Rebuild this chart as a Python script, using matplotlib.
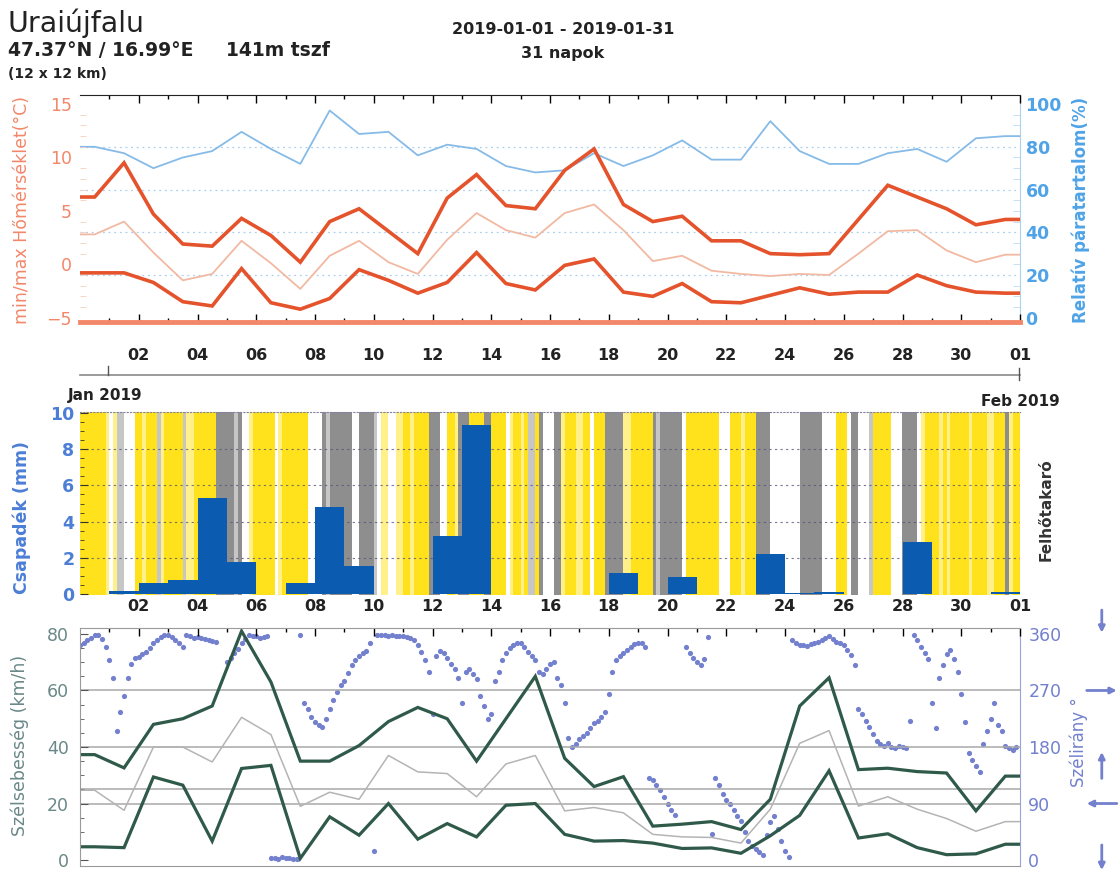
import numpy as np
import matplotlib
matplotlib.use("Agg")
import matplotlib.pyplot as plt
from matplotlib.colors import ListedColormap
from matplotlib.lines import Line2D

plt.rcParams['font.family'] = ['DejaVu Sans']

# daily values Dec 31 .. Jan 30, drawn at noon of each day
temp_max = [6.3, 9.5, 4.7, 1.9, 1.7, 4.3, 2.7, 0.2, 4.0, 5.2, 3.1, 1.0, 6.2, 8.4, 5.5, 5.2,
            8.8, 10.8, 5.6, 4.0, 4.5, 2.2, 2.2, 1.0, 0.9, 1.0, 4.2, 7.4, 6.3, 5.2, 3.7, 4.2]
temp_mean = [2.8, 4.0, 1.1, -1.5, -0.9, 2.2, 0.1, -2.3, 0.8, 2.2, 0.2, -0.9, 2.3, 4.8, 3.2, 2.5,
             4.8, 5.6, 3.2, 0.3, 0.8, -0.6, -0.9, -1.1, -0.9, -1.0, 1.0, 3.1, 3.2, 1.3, 0.2, 0.9]
temp_min = [-0.8, -0.8, -1.7, -3.5, -3.9, -0.4, -3.6, -4.2, -3.2, -0.5, -1.5, -2.7, -1.7, 1.1, -1.8, -2.4,
            -0.1, 0.5, -2.6, -3.0, -1.8, -3.5, -3.6, -2.9, -2.2, -2.8, -2.6, -2.6, -1.0, -2.0, -2.6, -2.7]
rel_hum = [80, 77, 70, 75, 78, 87, 79, 72, 97, 86, 87, 76, 81, 79, 71, 68,
           69, 77, 71, 76, 83, 74, 74, 92, 78, 72, 72, 77, 79, 73, 84, 85]
wind_max = [37.3, 32.6, 48, 50, 54.5, 81, 63, 35, 35, 40.5, 49, 54, 50, 35, 50, 65,
            36, 26, 29.5, 12, 12.7, 13.6, 10.8, 21.5, 54.5, 64.5, 32, 32.5, 31.3, 30.8, 17.4, 29.7]
wind_mean = [24.7, 17.6, 40, 40, 34.7, 50.5, 44.4, 19, 24, 21.5, 37, 31.2, 30.6, 22.4, 34, 37,
             17.4, 18.6, 16.7, 9.1, 8.2, 8, 6, 18, 41.3, 45.8, 19.1, 22.4, 18, 14.7, 10.2, 13.6]
wind_min = [4.7, 4.4, 29.4, 26.5, 6.7, 32.4, 33.5, 0.6, 15.3, 8.8, 20, 7.4, 12.9, 8.2, 19.4, 20,
            9.1, 6.7, 6.9, 6.0, 4.1, 4.3, 2.4, 8.6, 15.8, 31.6, 7.8, 9.3, 4.4, 1.9, 2.2, 5.6]

# daily precipitation Jan 1 .. Jan 31 (mm)
precip = [0.15, 0.6, 0.77, 5.3, 1.75, 0, 0.62, 4.8, 1.55, 0, 0, 3.2, 9.35, 0, 0, 0,
          0, 1.17, 0, 0.95, 0, 0, 2.2, 0.05, 0.12, 0, 0, 2.85, 0, 0, 0.1]

# cloud cover class every 3 h from Dec 31 00h: 0 clear .. 4 overcast
cloud = ("00000001" "21332220" "01000310" "00003110" "00000444" "44342210" "00000210" "00000022"
         "22434444" "44224444" "32112211" "00100004" "44220014" "44000044" "00002100" "10330422"
         "24410001" "10020004" "44441100" "00004344" "44442000" "00000022" "20001000" "44442222"
         "22224444" "44222200" "02442223" "00000222" "44442100" "00101000" "00100001" "10004100")

# wind direction every 3 h from Dec 31 00h (degrees)
nan = np.nan
wind_dir = [
    342, 346, 350, 354, 358, 359, 352, 340,
    318, 290, 205, 235, 262, 290, 312, 322,
    324, 328, 332, 338, 345, 350, 355, 358,
    358, 355, 350, 346, 340, 358, 356, 354,
    355, 353, 352, 350, 349, 347, nan, nan,
    315, 322, 330, 336, 345, 352, 358, 356,
    356, 354, 355, 357, 3, 4, 2, 5,
    4, 3, 2, 1, 358, 250, 240, 228,
    220, 215, 212, 225, 240, 255, 268, 278,
    285, 298, 310, 318, 325, 330, 333, 345,
    15, 358, 359, 358, 357, 358, 357, 356,
    356, 355, 354, 350, 343, 332, 318, 300,
    232, 325, 333, 330, 322, 312, 304, 290,
    250, 300, 304, 296, 288, 262, 245, 225,
    232, 285, 300, 318, 330, 338, 342, 345,
    345, 340, 332, 325, 318, 300, 296, 305,
    312, 316, 290, 278, 250, 195, 180, 185,
    192, 198, 203, 210, 218, 222, 228, 235,
    265, 300, 318, 325, 330, 335, 340, 344,
    346, 345, 340, 130, 128, 120, 112, 100,
    90, 80, 72, nan, nan, 340, 330, 322,
    315, 310, 320, 355, 42, 130, 120, 105,
    95, 90, 80, 70, 62, 45, 30, 22,
    18, 12, 8, 40, 60, 70, 50, 30,
    15, 5, 350, 345, 342, 343, 341, 344,
    345, 348, 350, 354, 356, 352, 348, 345,
    342, 335, 326, 310, 240, 232, 222, 212,
    200, 190, 185, 182, 186, 180, 178, 182,
    180, 178, 221, 358, 350, 340, 330, 320,
    250, 210, 290, 310, 328, 334, 320, 300,
    265, 220, 170, 160, 150, 140, 185, 205,
    225, 250, 215, 205, 182, 178, 176, 180,
]

date_labels = ["02", "04", "06", "08", "10", "12", "14", "16",
               "18", "20", "22", "24", "26", "28", "30", "01"]

XMIN, XMAX = -1, 31
W, H = 1120, 872

SALMON = "#F2876A"
TRED = "#E4532B"
TMEAN = "#F2B9A2"
RHBLUE = "#86BBE8"
RHTXT = "#4FA3E6"
PBLUE = "#4C7ED6"
BARBLUE = "#0B5CB0"
WGREEN = "#2F5A4A"
WTXT = "#6A8888"
DIRC = "#7280CE"
DARK = "#222222"

day_mid = np.arange(len(temp_max)) + XMIN + 0.5
xs = np.concatenate([[XMIN], day_mid, [XMAX]])


def padded(v):
    return np.concatenate([[v[0]], v, [v[-1]]])


def px_axes(left, top, right, bottom):
    return fig.add_axes([left / W, 1 - bottom / H, (right - left) / W, (bottom - top) / H])


def day_ticks(ax, labels=True, pad=4):
    ax.set_xlim(XMIN, XMAX)
    ax.set_xticks(np.arange(1, 32, 2))
    ax.set_xticks(np.arange(0, 31, 2), minor=True)
    if labels:
        ax.set_xticklabels(date_labels, fontsize=11.5, fontweight='bold', color=DARK)
    else:
        ax.set_xticklabels([])
    ax.tick_params(axis='x', which='major', direction='in', length=6, width=1, pad=pad,
                   top=True, bottom=True)
    ax.tick_params(axis='x', which='minor', direction='in', length=3, width=1,
                   top=True, bottom=True)


fig = plt.figure(figsize=(W / 100, H / 100), dpi=100)

# header
fig.text(7 / W, 1 - 32 / H, "Uraiújfalu", fontsize=20.5, color=DARK)
fig.text(8 / W, 1 - 56 / H, "47.37°N / 16.99°E", fontsize=13.5, fontweight='bold', color=DARK)
fig.text(226 / W, 1 - 56 / H, "141m tszf", fontsize=13.5, fontweight='bold', color=DARK)
fig.text(8 / W, 1 - 78 / H, "(12 x 12 km)", fontsize=10, fontweight='bold', color=DARK)
fig.text(563 / W, 1 - 34 / H, "2019-01-01 - 2019-01-31", fontsize=11.5, fontweight='bold',
         color=DARK, ha='center')
fig.text(563 / W, 1 - 58 / H, "31 napok", fontsize=11.5, fontweight='bold', color=DARK,
         ha='center')

# ---- temperature / humidity ----
ax1 = px_axes(80, 95, 1020, 322)
ax1b = ax1.twinx()
ax1.set_ylim(-5.4, 15.85)
ax1b.set_ylim(-2, 104.25)
day_ticks(ax1, pad=19)

for lvl in [20, 40, 60, 80]:
    ax1b.axhline(lvl, color=RHBLUE, lw=0.9, ls=(0, (1.5, 3)), alpha=0.7)
ax1b.plot(xs, padded(rel_hum), color=RHBLUE, lw=1.3)
ax1.plot(xs, padded(temp_mean), color=TMEAN, lw=1.3)
ax1.plot(xs, padded(temp_max), color=TRED, lw=2.6, solid_joinstyle='miter')
ax1.plot(xs, padded(temp_min), color=TRED, lw=2.6, solid_joinstyle='miter')
ax1.set_zorder(ax1b.get_zorder() + 1)
ax1.patch.set_visible(False)

ax1.set_yticks([-5, 0, 5, 10, 15])
ax1.set_yticks(np.arange(-5, 16, 1), minor=True)
ax1.tick_params(axis='y', which='major', length=0, labelsize=12.5, labelcolor=SALMON, pad=6)
ax1.tick_params(axis='y', which='minor', direction='in', length=4, color="#F6CDBE")
ax1b.set_yticks([0, 20, 40, 60, 80, 100])
ax1b.set_yticks(np.arange(0, 101, 5), minor=True)
ax1b.tick_params(axis='y', which='major', direction='in', length=0, labelsize=12.5,
                 labelcolor=RHTXT, pad=4)
ax1b.tick_params(axis='y', which='minor', direction='in', length=5, color="#BCDCF4")
for lab in ax1b.get_yticklabels():
    lab.set_fontweight('bold')

ax1.spines['left'].set_visible(False)
ax1b.spines['left'].set_visible(False)
ax1.spines['right'].set_visible(False)
ax1b.spines['right'].set_color("#A9D2F2")
ax1.spines['top'].set_linestyle((0, (1, 1)))
ax1.spines['top'].set_color(DARK)
ax1b.spines['top'].set_visible(False)
ax1.spines['bottom'].set_color(SALMON)
ax1.spines['bottom'].set_linewidth(3.5)
ax1b.spines['bottom'].set_visible(False)

fig.text(22 / W, 1 - 210 / H, "min/max Hőmérséklet(°C)", rotation=90, fontsize=12.5,
         color=SALMON, ha='center', va='center')
fig.text(1081 / W, 1 - 210 / H, "Relatív páratartalom(%)", rotation=90, fontsize=12,
         fontweight='bold', color=RHTXT, ha='center', va='center')

# rule below the date labels
fig.add_artist(Line2D([80 / W, 1020 / W], [1 - 375 / H, 1 - 375 / H], color="#8A8A8A", lw=1.2))
fig.add_artist(Line2D([108 / W, 108 / W], [1 - 375 / H, 1 - 366 / H], color="#555555", lw=1))
fig.add_artist(Line2D([1019 / W, 1019 / W], [1 - 380 / H, 1 - 368 / H], color="#555555", lw=1))

fig.text(68 / W, 1 - 400 / H, "Jan 2019", fontsize=11, fontweight='bold', color=DARK)
fig.text(1060 / W, 1 - 406 / H, "Feb 2019", fontsize=11, fontweight='bold', color=DARK,
         ha='right')

# ---- precipitation / cloud cover ----
ax2 = px_axes(80, 412, 1020, 595)
ax2.set_ylim(-0.05, 10.05)
day_ticks(ax2, pad=3)
ax2.tick_params(axis='x', which='both', length=0)

cloud_cmap = ListedColormap(["#FFE21C", "#FFF08A", "#FFFFFF", "#C6C6C6", "#8E8E8E"])
cloud_arr = np.array([int(c) for c in cloud])[None, :]
ax2.imshow(cloud_arr, cmap=cloud_cmap, vmin=-0.5, vmax=4.5, aspect='auto',
           interpolation='nearest', extent=(XMIN, XMAX, -0.05, 10.05), zorder=0)
ax2.bar(np.arange(len(precip)), precip, width=1.0, align='edge', color=BARBLUE,
        edgecolor='none', zorder=2)
for lvl in [2, 4, 6, 8]:
    ax2.axhline(lvl, color="#555577", lw=0.8, ls=(0, (2, 3)), alpha=0.8, zorder=1)

ax2.set_yticks([0, 2, 4, 6, 8, 10])
ax2.set_yticks(np.arange(0, 10.1, 0.5), minor=True)
ax2.tick_params(axis='y', which='major', direction='in', length=6, color="#333333",
                labelsize=12.5, labelcolor=PBLUE, pad=4)
ax2.tick_params(axis='y', which='minor', direction='in', length=3, color="#333333")
for lab in ax2.get_yticklabels():
    lab.set_fontweight('bold')
for side in ['left', 'right', 'bottom']:
    ax2.spines[side].set_visible(False)
ax2.spines['top'].set_linestyle((0, (1, 2)))
ax2.spines['top'].set_color("#8080A0")

fig.text(22 / W, 1 - 517 / H, "Csapadék (mm)", rotation=90, fontsize=12.5, fontweight='bold',
         color=PBLUE, ha='center', va='center')
fig.text(1046 / W, 1 - 510 / H, "Felhőtakaró", rotation=90, fontsize=11, fontweight='bold',
         color="#333333", ha='center', va='center')

# ---- wind speed / direction ----
ax3 = px_axes(80, 628, 1020, 866)
ax3b = ax3.twinx()
ax3.set_ylim(-2.1, 82.1)
ax3b.set_ylim(-9.5, 369.5)
day_ticks(ax3, labels=False)
ax3.tick_params(axis='x', which='both', bottom=False)

for lvl in [20, 25, 40, 60]:
    ax3.axhline(lvl, color="#A8A8A8", lw=1.1, zorder=0)

dir_t = np.arange(len(wind_dir)) / 8 + XMIN
ax3b.scatter(dir_t, wind_dir, s=14, color=DIRC, linewidths=0, zorder=1)
ax3.plot(xs, padded(wind_mean), color="#B4B4B4", lw=1.1)
ax3.plot(xs, padded(wind_max), color=WGREEN, lw=2.3, solid_joinstyle='miter')
ax3.plot(xs, padded(wind_min), color=WGREEN, lw=2.3, solid_joinstyle='miter')
ax3.set_zorder(ax3b.get_zorder() + 1)
ax3.patch.set_visible(False)

ax3.set_yticks([0, 20, 40, 60, 80])
ax3.set_yticks(np.arange(0, 81, 5), minor=True)
ax3.tick_params(axis='y', which='major', direction='in', length=6, color="#555555",
                labelsize=12.5, labelcolor=WTXT, pad=8)
ax3.tick_params(axis='y', which='minor', direction='in', length=3, color="#555555")
ax3b.set_yticks([0, 90, 180, 270, 360])
ax3b.tick_params(axis='y', direction='in', length=0, labelsize=12.5, labelcolor=DIRC, pad=6)

for side in ['left', 'top', 'bottom']:
    ax3.spines[side].set_color("#9A9A9A")
    ax3b.spines[side].set_visible(False)
ax3.spines['right'].set_visible(False)
ax3b.spines['right'].set_color("#9AA3DA")

fig.text(20 / W, 1 - 745 / H, "Szélsebesség (km/h)", rotation=90, fontsize=12.5,
         color=WTXT, ha='center', va='center')
fig.text(1079 / W, 1 - 742 / H, "Szélirány °", rotation=90, fontsize=12,
         color=DIRC, ha='center', va='center')

# compass arrows beside the direction axis
arrows = [((1.087, 398), (1.087, 362)),
          ((1.071, 270), (1.103, 270)),
          ((1.087, 130), (1.087, 172)),
          ((1.103, 90), (1.071, 90)),
          ((1.087, 24), (1.087, -16))]
for start, end in arrows:
    ax3b.annotate("", xy=end, xytext=start, xycoords=('axes fraction', 'data'),
                  textcoords=('axes fraction', 'data'), annotation_clip=False,
                  arrowprops=dict(arrowstyle='-|>', color=DIRC, lw=2, mutation_scale=9,
                                  shrinkA=0, shrinkB=0))

fig.savefig("out.png", dpi=100)
